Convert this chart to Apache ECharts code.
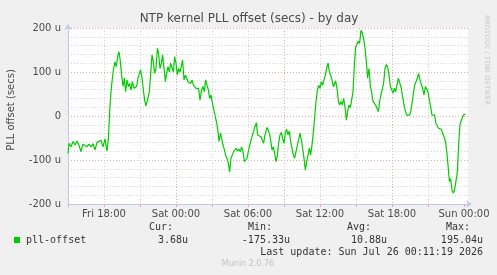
<!DOCTYPE html>
<html>
<head>
<meta charset="utf-8">
<script src="https://cdn.jsdelivr.net/npm/echarts@6.0.0/dist/echarts.min.js"></script>
<style>
  html, body { margin: 0; padding: 0; background: #f0f0f0; }
  #chart { width: 497px; height: 275px; }
</style>
</head>
<body>
<div id="chart"></div>
<script>
  // minutes since Fri 15:00
  var minutes = [
    0, 5, 15, 25, 35, 45, 55, 65, 75, 85, 95, 105, 115, 125, 135, 145, 155, 165, 175, 185, 195, 202,
    210, 218, 227, 235, 242, 248, 255, 262, 268, 275, 282, 288, 295, 302, 308, 315, 322, 330, 337, 343,
    350, 357, 363, 370, 377, 383, 390, 400, 407, 413, 420, 427, 433, 440, 447, 453, 460, 467, 473, 480,
    487, 493, 500, 507, 513, 520, 527, 533, 540, 547, 553, 560, 567, 573, 580, 587, 593, 600, 607, 613,
    620, 627, 633, 640, 647, 653, 660, 667, 675, 682, 688, 695, 702, 708, 715, 722, 728, 735, 742, 748,
    755, 762, 768, 775, 782, 788, 795, 802, 808, 815,
    822, 828, 835, 842, 848, 855, 862, 868, 875, 882, 888, 895, 905, 915, 925, 935, 942, 948, 955, 965,
    972, 978, 985, 995, 1007, 1013, 1020, 1027, 1033, 1040, 1047, 1053, 1060, 1067, 1073, 1080, 1087, 1093, 1100, 1107,
    1113, 1120, 1127, 1133, 1140, 1147, 1153, 1160, 1167, 1173, 1180, 1187, 1193, 1200, 1207, 1213, 1220, 1227, 1233, 1240,
    1247, 1253, 1260, 1267, 1273, 1280, 1287, 1293, 1300, 1307, 1313, 1320, 1327, 1338, 1345, 1352, 1358, 1365, 1372, 1378,
    1385, 1392, 1398, 1405, 1412, 1418, 1425, 1432, 1438, 1445, 1452, 1458, 1465, 1472, 1478, 1485, 1492, 1498, 1505, 1512,
    1518, 1525, 1532, 1538, 1545, 1552, 1558, 1565, 1572, 1578, 1585, 1592, 1598, 1605, 1612, 1618, 1625, 1632, 1638, 1645,
    1652, 1658, 1667, 1673, 1680, 1687, 1693, 1700, 1707, 1713, 1720, 1727, 1733, 1740, 1747, 1753, 1760, 1767, 1773, 1780,
    1787, 1793, 1800, 1807, 1813, 1820, 1827, 1833, 1840, 1847, 1853, 1860, 1867, 1873, 1880, 1887, 1893, 1900, 1907, 1913,
    1920, 1927, 1933, 1940, 1947, 1953, 1960, 1967, 1973, 1980, 1987
  ];
  // pll offset in micro seconds
  var offsetU = [
    -85, -62, -70, -58, -66, -57, -67, -81, -64, -60, -70, -64, -70, -63, -77, -60, -64, -55, -70, -52, -80, -51,
    25, 70, 105, 123, 112, 135, 146, 123, 93, 67, 86, 55, 82, 67, 74, 59, 78, 63, 59, 67,
    86, 97, 105, 86, 59, 36, 23, 23, 55, 93, 139, 123, 97, 108, 154, 142, 108, 120, 139, 142,
    78, 97, 112, 100, 120, 122, 100, 135, 120, 93, 108, 100, 97, 127, 82, 93, 86, 78, 82, 74,
    82, 70, 74, 63, 59, 63, 36, 57, 67, 55, 82, 70, 59, 40, 48, 29, 17, 2, -13, -28,
    -58, -39, -51, -66, -77, -89, -96, -108, -127, -96,
    -92, -81, -85, -73, -80, -75, -81, -70, -81, -104, -108, -96, -73, -55, -39, -24, -15, -43, -39, -47,
    -51, -62, -43, -26, -39, -55, -77, -70, -85, -104, -89, -62, -43, -37, -51, -62, -39, -30, -43, -34,
    -58, -73, -89, -96, -81, -66, -55, -39, -55, -73, -96, -123, -104, -89, -73, -89, -66, -36, -5, 33,
    59, 70, 63, 78, 70, 82, 93, 108, 120, 100, 93, 82, 66, 80, 63, 33, 25, 33, 25, 40,
    21, -9, 10, 25, 19, 17, 55, 116, 157, 154, 170, 165, 195, 188, 176, 154, 123, 86, 108, 67,
    55, 33, 34, 25, 17, 10, 33, 48, 44, 74, 108, 117, 112, 93, 67, 70, 52, 63, 55, 70,
    86, 82, 62, 44, 25, 11, 2, 6, 2, 8, 29, 33, 70, 78, 86, 97, 82, 82, 63, 48,
    67, 70, 55, 36, 21, 2, 6, 2, -17, -20, -28, -28, -30, -39, -47, -58, -77, -111, -149, -142,
    -168, -175.33, -168, -172, -127, -66, -20, -9, -2, 4, 3.68
  ];

  var xTickMinutes = [180, 540, 900, 1260, 1620, 1980];
  var xTickLabels = ['Fri 18:00', 'Sat 00:00', 'Sat 06:00', 'Sat 12:00', 'Sat 18:00', 'Sun 00:00'];
  var yTickValues = [-200, -100, 0, 100, 200];
  var yTickLabels = ['-200 u', '-100 u', '0', '100 u', '200 u'];
  var majorTickMinutes = [0, 180, 360, 540, 720, 900, 1080, 1260, 1440, 1620, 1800, 1980];

  var statHeads = ['Cur:', 'Min:', 'Avg:', 'Max:'];
  var statValues = ['3.68u', '-175.33u', '10.88u', '195.04u'];

  var chart = echarts.init(document.getElementById('chart'));

  var seriesData = minutes.map(function (m, i) { return [m, offsetU[i]]; });

  var mono = '"DejaVu Sans Mono", monospace';
  var sans = '"DejaVu Sans", sans-serif';
  var axisCol = '#c4c6ee';
  var majorCol = '#eaa9a9';
  var minorCol = '#d2d2d2';

  var statHeadX = [161, 260, 359, 458];
  var statValRight = [188, 290, 387, 483];

  var graphics = [
    { type: 'text', x: 249, y: 19, style: { text: 'NTP kernel PLL offset (secs) - by day', font: '12px ' + sans, fill: '#4a4a4a', textAlign: 'center', textVerticalAlign: 'middle' } },
    { type: 'text', x: 11, y: 110, rotation: Math.PI / 2, style: { text: 'PLL offset (secs)', font: '10px ' + sans, fill: '#4a4a4a', textAlign: 'center', textVerticalAlign: 'middle' } },
    { type: 'text', x: 487, y: 15, rotation: -Math.PI / 2, style: { text: 'RRDTOOL / TOBI OETIKER', font: '7px ' + sans, fill: '#c8c8c8', textAlign: 'left', textVerticalAlign: 'middle' } },
    { type: 'rect', shape: { x: 14, y: 237, width: 6, height: 6 }, style: { fill: '#00cc00' } },
    { type: 'text', x: 26, y: 240, style: { text: 'pll-offset', font: '10px ' + mono, fill: '#333', textVerticalAlign: 'middle' } },
    { type: 'text', x: 483, y: 252, style: { text: 'Last update: Sun Jul 26 00:11:19 2026', font: '10px ' + mono, fill: '#333', textAlign: 'right', textVerticalAlign: 'middle' } },
    { type: 'text', x: 248, y: 264, style: { text: 'Munin 2.0.76', font: '8px ' + sans, fill: '#c4c4c4', textAlign: 'center', textVerticalAlign: 'middle' } }
  ];
  statHeads.forEach(function (h, i) {
    graphics.push({ type: 'text', x: statHeadX[i], y: 227, style: { text: h, font: '10px ' + mono, fill: '#333', textAlign: 'center', textVerticalAlign: 'middle' } });
    graphics.push({ type: 'text', x: statValRight[i], y: 240, style: { text: statValues[i], font: '10px ' + mono, fill: '#333', textAlign: 'right', textVerticalAlign: 'middle' } });
  });

  var option = {
    backgroundColor: '#f0f0f0',
    animation: false,
    grid: {
      left: 68, right: 29, top: 28, bottom: 71,
      show: true, backgroundColor: '#ffffff', borderWidth: 0
    },
    xAxis: {
      type: 'value',
      min: 0,
      max: 2000,
      interval: 60,
      axisLine: {
        show: true,
        onZero: false,
        lineStyle: { color: axisCol, width: 1 },
        symbol: ['none', 'arrow'],
        symbolSize: [6, 6],
        symbolOffset: [0, 4]
      },
      axisTick: {
        show: true,
        customValues: majorTickMinutes,
        length: 3,
        inside: false,
        lineStyle: { color: majorCol }
      },
      axisLabel: {
        customValues: xTickMinutes,
        formatter: function (v) {
          var i = xTickMinutes.indexOf(v);
          return i >= 0 ? xTickLabels[i] : '';
        },
        color: '#4a4a4a',
        fontFamily: sans,
        fontSize: 10,
        margin: 5
      },
      splitLine: {
        show: true,
        showMaxLine: false,
        lineStyle: { color: [majorCol, minorCol, minorCol], type: [1, 2], width: 1 }
      }
    },
    yAxis: {
      type: 'value',
      min: -200,
      max: 200,
      interval: 20,
      axisLine: {
        show: true,
        onZero: false,
        lineStyle: { color: axisCol, width: 1 },
        symbol: ['none', 'arrow'],
        symbolSize: [6, 6],
        symbolOffset: [0, 4]
      },
      axisTick: { show: false },
      axisLabel: {
        customValues: yTickValues,
        formatter: function (v) {
          var i = yTickValues.indexOf(v);
          return i >= 0 ? yTickLabels[i] : '';
        },
        color: '#4a4a4a',
        fontFamily: sans,
        fontSize: 10,
        margin: 7
      },
      splitLine: {
        show: true,
        lineStyle: { color: [majorCol, minorCol, minorCol, minorCol, minorCol], type: [1, 2], width: 1 }
      }
    },
    series: [
      {
        name: 'pll-offset',
        type: 'line',
        data: seriesData,
        showSymbol: false,
        lineStyle: { color: '#00cc00', width: 1.2 },
        itemStyle: { color: '#00cc00' },
        z: 5
      }
    ],
    graphic: graphics
  };

  chart.setOption(option);
</script>
</body>
</html>
